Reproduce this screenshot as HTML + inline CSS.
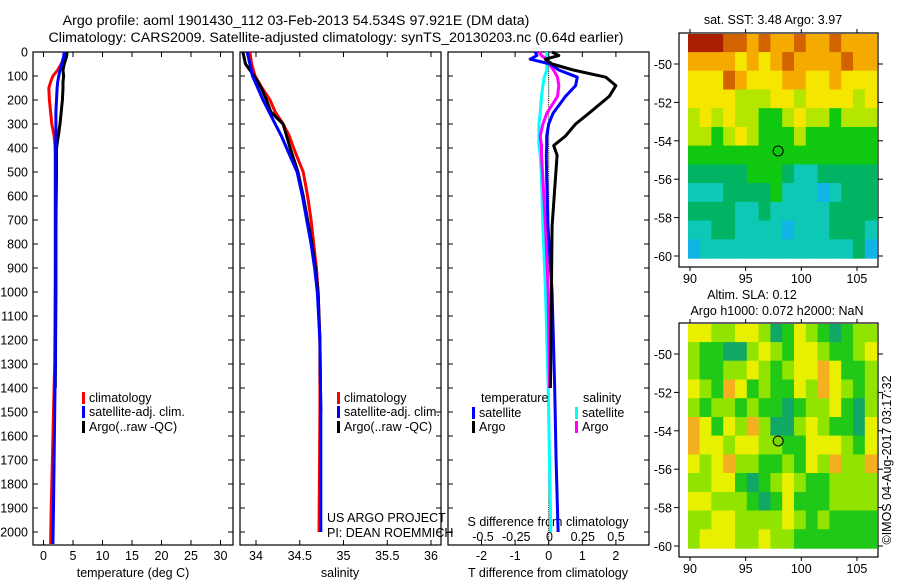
<!DOCTYPE html>
<html><head><meta charset="utf-8"><style>
body{margin:0;background:#fff;width:900px;height:580px;overflow:hidden}
svg{font-family:"Liberation Sans",sans-serif;font-size:12.5px}
</style></head><body>
<svg id="c" width="900" height="580" viewBox="0 0 900 580"></svg>
<script>
// ---- profile data ----
const depthsT=[0,20,50,75,100,125,150,200,250,300,350,400,500,700,1000,1300,1500,1700,1900,2050];
const climT=[3.7,3.6,3.0,2.4,1.6,1.2,0.9,1.0,1.2,1.4,1.8,2.0,2.1,2.1,2.0,1.9,1.7,1.5,1.3,1.2];
const satT=[3.5,3.4,3.1,2.8,2.6,2.4,2.3,2.2,2.1,2.1,2.1,2.0,2.0,2.0,2.0,2.0,1.9,1.8,1.7,1.6];
const depthsArgoT=[0,20,50,75,100,125,150,200,250,300,350,400,500,700,1000,1400];
const argoT=[4.0,3.9,3.5,3.3,3.4,3.3,3.3,3.2,3.0,2.8,2.5,2.2,2.2,2.1,2.1,2.0];
const depthsS=[0,50,100,150,200,250,300,350,400,500,600,700,800,900,1000,1200,1500,2000];
const climS=[33.93,33.95,33.99,34.07,34.16,34.22,34.31,34.38,34.43,34.54,34.59,34.63,34.66,34.69,34.71,34.73,34.73,34.72];
const satS=[33.90,33.93,33.96,34.02,34.08,34.15,34.22,34.29,34.35,34.47,34.53,34.58,34.63,34.67,34.70,34.73,34.74,34.74];
const depthsArgoS=[0,50,100,150,200,250,300,350,400,500,600,700,800,900,1000,1200,1500];
const argoS=[33.85,33.88,33.98,34.06,34.12,34.17,34.31,34.35,34.39,34.48,34.54,34.59,34.64,34.68,34.71,34.73,34.74];
const depthsD=[0,15,30,50,75,105,140,185,255,300,350,390,430,530,725,1000,1400,1700,2000];
const dTargo=[0.1,0.3,-0.1,0.1,0.73,1.7,2.0,1.8,1.2,0.8,0.5,0.15,0.25,0.2,0.1,0.08,0.05,null,null];
const dTsat=[-0.4,-0.35,-0.55,0.05,0.3,0.85,0.8,0.5,0.13,0.0,-0.06,-0.06,-0.07,-0.06,-0.02,0.1,0.18,0.22,0.28];
const dSargo=[-0.08,-0.06,-0.02,0.0,0.03,0.06,0.07,0.06,-0.02,-0.05,-0.07,-0.06,-0.06,-0.05,-0.03,-0.01,0.0,null,null];
const dSsat=[-0.02,-0.02,-0.02,-0.02,-0.02,-0.04,-0.05,-0.06,-0.07,-0.08,-0.08,-0.08,-0.07,-0.06,-0.05,-0.03,-0.01,0.0,0.01];
const depthTicks=[0,100,200,300,400,500,600,700,800,900,1000,1100,1200,1300,1400,1500,1600,1700,1800,1900,2000];
const tempTicks=[0,5,10,15,20,25,30];
const salTicks=[34,34.5,35,35.5,36];
const tdTicks=[-2,-1,0,1,2];
const sdTicks=[-0.5,-0.25,0,0.25,0.5];
// ---- map data (cell centres and colour class per cell) ----
const mapLons=[90.35,91.41,92.47,93.53,94.59,95.65,96.71,97.77,98.83,99.89,100.95,102.01,103.07,104.13,105.19,106.25];
const mapLats=[-48.9,-49.88,-50.85,-51.83,-52.8,-53.78,-54.75,-55.73,-56.7,-57.68,-58.65,-59.63];
const sstGrid=[
[9,9,9,8,8,7,8,7,7,8,7,7,8,7,7,7],
[7,7,7,7,6,7,6,7,8,7,7,7,7,8,7,7],
[6,6,6,8,7,6,6,6,7,7,6,6,7,6,6,6],
[6,6,6,6,5,5,5,6,6,5,6,6,6,6,5,6],
[5,6,5,6,5,5,4,4,5,6,5,5,4,5,5,5],
[5,5,4,5,6,5,4,4,4,5,4,4,4,4,4,4],
[4,4,4,4,4,4,4,4,4,4,4,4,4,4,4,4],
[3,3,3,3,3,4,4,4,3,2,2,3,3,3,3,3],
[2,2,2,3,3,3,3,4,2,2,2,1,2,3,3,3],
[3,3,3,3,2,2,3,2,2,2,2,2,3,3,3,3],
[2,2,3,3,2,2,2,2,1,2,2,2,3,3,3,2],
[1,2,2,2,2,2,2,2,2,2,2,2,2,2,3,1]];
const slaGrid=[
[6,6,5,5,6,6,5,3,4,6,5,4,3,4,5,5],
[5,4,4,3,3,5,6,5,4,6,6,5,4,4,5,6],
[5,4,4,5,5,6,5,4,5,6,6,7,6,4,4,5],
[6,5,4,7,6,4,5,4,4,6,5,7,6,5,4,5],
[5,4,5,5,4,5,4,4,3,4,5,5,6,4,3,5],
[7,6,4,6,5,7,5,3,3,5,6,5,4,4,3,6],
[7,6,6,5,6,6,5,5,4,4,6,6,6,5,4,6],
[6,5,6,7,5,5,4,4,5,4,6,5,7,5,5,7],
[5,5,6,6,4,3,4,5,6,5,4,4,5,5,5,5],
[6,6,5,5,5,4,3,4,6,4,4,4,5,5,5,5],
[5,5,6,6,5,5,5,5,6,5,4,5,4,4,4,4],
[5,6,6,6,5,5,6,5,5,4,4,4,4,4,4,4]];
const sstCols=["#0a64f0","#10b4e6","#0cc8b4","#00b464","#10c810","#b4e600","#f5e600","#f5aa00","#d26400","#aa1e00"];
const slaCols=["#0a64f0","#10b4e6","#0cc8b4","#10a864","#20c818","#90e400","#e8f000","#f5b020"];

const NS="http://www.w3.org/2000/svg", svg=document.getElementById('c');
function el(t,a,p){const e=document.createElementNS(NS,t);for(const k in a)e.setAttribute(k,a[k]);(p||svg).appendChild(e);return e;}
function txt(x,y,s,anchor,p){const e=el('text',{x:x,y:y,'text-anchor':anchor||'start'},p);e.textContent=s;return e;}
const topY=52, yD=d=>topY+d*0.24, bottomY=545;
const xT=t=>43.5+t*5.9, xS=s=>256+(s-34)*87.5, xTD=v=>548.7+v*33.6, xSD=v=>549.5+v*133;
function panel(x0,x1,name){
  const g=el('g',{});
  
  
  el('rect',{x:x0,y:topY,width:x1-x0,height:bottomY-topY,fill:'none',stroke:'#000','stroke-width':1.2},g);
  depthTicks.forEach(d=>{el('line',{x1:x0,x2:x0+5,y1:yD(d),y2:yD(d),stroke:'#000'},g);el('line',{x1:x1,x2:x1-5,y1:yD(d),y2:yD(d),stroke:'#000'},g);});
  return g;
}
function line(xs,ds,fx,col,name,w,p){
  let d='',pen=false;
  xs.forEach((v,i)=>{if(v==null){pen=false;return;}d+=(pen?'L':'M')+fx(v).toFixed(1)+','+yD(ds[i]).toFixed(1);pen=true;});
  const e=el('path',{d:d,fill:'none',stroke:col,'stroke-width':w||3,'stroke-linejoin':'round'},p);
  
  
}
function xticks(g,ticks,fx,labelY){ticks.forEach(t=>{el('line',{x1:fx(t),x2:fx(t),y1:topY,y2:topY+5,stroke:'#000'},g);el('line',{x1:fx(t),x2:fx(t),y1:bottomY,y2:bottomY-5,stroke:'#000'},g);txt(fx(t),labelY,String(t),'middle',g);});}
// titles
const t1=txt(296,25,'Argo profile: aoml 1901430_112 03-Feb-2013 54.534S 97.921E (DM data)','middle');
t1.setAttribute('font-size','14.2');

const t2=txt(336,42,'Climatology: CARS2009. Satellite-adjusted climatology: synTS_20130203.nc (0.64d earlier)','middle');
t2.setAttribute('font-size','14.2');

// panel 1
const p1=panel(33,233,'temperature-panel');
depthTicks.forEach(d=>txt(28,yD(d)+4.5,String(d),'end',p1));
xticks(p1,tempTicks,xT,560);
txt(133,577,'temperature (deg C)','middle',p1);
line(climT,depthsT,xT,'#f00','temp-climatology-line',3,p1);
line(argoT,depthsArgoT,xT,'#000','temp-argo-line',3,p1);
line(satT,depthsT,xT,'#00f','temp-satellite-line',3,p1);
// panel 2
const p2=panel(240,441,'salinity-panel');
xticks(p2,salTicks,xS,560);
txt(340,577,'salinity','middle',p2);
line(climS,depthsS,xS,'#f00','sal-climatology-line',3,p2);
line(argoS,depthsArgoS,xS,'#000','sal-argo-line',3,p2);
line(satS,depthsS,xS,'#00f','sal-satellite-line',3,p2);
txt(327,522,'US ARGO PROJECT','start',p2);
txt(327,537,'PI: DEAN ROEMMICH','start',p2);
// panel 3
const p3=panel(448,649,'difference-panel');
xticks(p3,tdTicks,xTD,560);
sdTicks.forEach(t=>txt(xSD(t),541,String(t),'middle',p3));
txt(548,526,'S difference from climatology','middle',p3);
txt(548,577,'T difference from climatology','middle',p3);
for(let d=0;d<2050;d+=8){el('line',{x1:xTD(0),x2:xTD(0),y1:yD(d),y2:yD(d)+1,stroke:'#000'},p3);}
line(dSsat,depthsD,xSD,'#0ff','s-diff-satellite-line',3,p3);
line(dSargo,depthsD,xSD,'#f0f','s-diff-argo-line',3,p3);
line(dTsat,depthsD,xTD,'#00f','t-diff-satellite-line',3,p3);
line(dTargo,depthsD,xTD,'#000','t-diff-argo-line',3,p3);
// legends
function legend(x,y,col,label,name){const g=el('g',{});el('rect',{x:x,y:y-10,width:3,height:12,fill:col},g);txt(x+7,y,label,'start',g);}
legend(82,402,'#f00','climatology','legend-climatology');
legend(82,416,'#00f','satellite-adj. clim.','legend-satellite-adj');
legend(82,431,'#000','Argo(..raw -QC)','legend-argo');
legend(337,402,'#f00','climatology','legend-sal-climatology');
legend(337,416,'#00f','satellite-adj. clim.','legend-sal-satellite-adj');
legend(337,431,'#000','Argo(..raw -QC)','legend-sal-argo');
txt(481,402,'temperature','start',p3);txt(583,402,'salinity','start',p3);
legend(472,417,'#00f','satellite','legend-t-satellite');
legend(472,431,'#000','Argo','legend-t-argo');
legend(575,417,'#0ff','satellite','legend-s-satellite');
legend(575,431,'#f0f','Argo','legend-s-argo');
// maps
const xLon=l=>690+(l-90)*11.13;
const defs=el('defs',{});
function map(y0,latAt50,grid,cols,name,circleFill,clipId){
  const yLat=la=>latAt50+(-50-la)*19.2;
  const cp=el('clipPath',{id:clipId},defs);
  el('rect',{x:688,y:y0+1,width:189,height:225},cp);
  const g=el('g',{});
  const cg=el('g',{'clip-path':'url(#'+clipId+')'},g);
  grid.forEach((row,r)=>row.forEach((v,c)=>{
    const cx=xLon(mapLons[c]), cy=yLat(mapLats[r]);
    const cell=el('rect',{x:(cx-6.1).toFixed(1),y:(cy-9.6).toFixed(1),width:12.2,height:19.4,fill:cols[v]},cg);
    
    
  }));
  el('rect',{x:679,y:y0,width:199,height:234,fill:'none',stroke:'#000','stroke-width':1.2},g);
  [-50,-52,-54,-56,-58,-60].forEach(la=>{el('line',{x1:679,x2:674,y1:yLat(la),y2:yLat(la),stroke:'#000'},g);el('line',{x1:878,x2:883,y1:yLat(la),y2:yLat(la),stroke:'#000'},g);txt(672,yLat(la)+5,String(la),'end',g);});
  [90,95,100,105].forEach(lo=>{el('line',{x1:xLon(lo),x2:xLon(lo),y1:y0,y2:y0-4,stroke:'#000'},g);el('line',{x1:xLon(lo),x2:xLon(lo),y1:y0+234,y2:y0+238,stroke:'#000'},g);txt(xLon(lo),y0+250,String(lo),'middle',g);});
  el('circle',{cx:xLon(97.92),cy:yLat(-54.53),r:5,fill:circleFill,stroke:'#000'},g);
  return g;
}
map(33,64,sstGrid,sstCols,'sst-map','none','clipA');
txt(773,24,'sat. SST: 3.48 Argo: 3.97','middle');
map(323,354,slaGrid,slaCols,'sla-map','#7ad40a','clipB');
txt(752,299,'Altim. SLA: 0.12','middle');
txt(777,315,'Argo h1000: 0.072 h2000: NaN','middle');
const cr=txt(0,0,'©IMOS 04-Aug-2017 03:17:32','middle');
cr.setAttribute('transform','translate(891,460) rotate(-90)');

</script>
</body></html>
